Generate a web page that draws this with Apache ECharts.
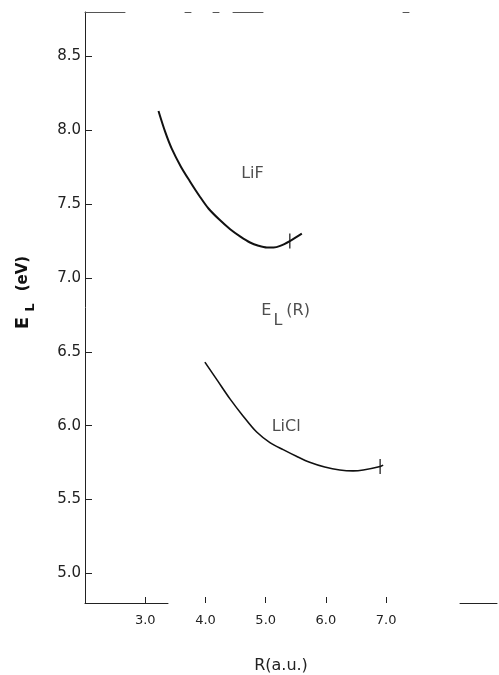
<!DOCTYPE html>
<html><head><meta charset="utf-8">
<script src="https://cdn.jsdelivr.net/npm/echarts@6/dist/echarts.min.js"></script>
<style>html,body{margin:0;padding:0;background:#fff}#c{width:499px;height:675px}</style>
</head><body><div id="c"></div>
<script>
// Data
const xTicks = [3.0, 4.0, 5.0, 6.0, 7.0];
const yTicks = [5.0, 5.5, 6.0, 6.5, 7.0, 7.5, 8.0, 8.5];
const lifR = [3.22, 3.33, 3.44, 3.59, 3.74, 3.90, 4.05, 4.23, 4.41, 4.58, 4.74, 4.88, 5.02, 5.13, 5.24, 5.40, 5.60];
const lifE = [8.13, 7.99, 7.875, 7.755, 7.655, 7.555, 7.47, 7.395, 7.33, 7.28, 7.24, 7.218, 7.206, 7.206, 7.217, 7.25, 7.30];
const liclR = [3.99, 4.20, 4.41, 4.63, 4.85, 5.07, 5.29, 5.51, 5.73, 5.98, 6.23, 6.45, 6.62, 6.90, 6.95];
const liclE = [6.43, 6.305, 6.18, 6.063, 5.957, 5.886, 5.838, 5.793, 5.752, 5.72, 5.70, 5.694, 5.70, 5.724, 5.733];
const crossR = [5.40, 6.90];
const crossE = [7.25, 5.724];
const labelText = ['LiF', 'EL(R)', 'LiCl'];
const labelR = [4.78, 5.33, 5.34];
const labelE = [7.705, 6.774, 5.99];

const FONT = 'DejaVu Sans';
const zip = (a, b) => a.map((v, i) => [v, b[i]]);

const chart = echarts.init(document.getElementById('c'), null, {renderer: 'canvas'});
chart.setOption({
  backgroundColor: '#fff',
  animation: false,
  grid: {left: 85, top: 12, right: 2, bottom: 72, outerBoundsMode: 'none', containLabel: false},
  xAxis: [{
    type: 'value', min: 2, max: 8.84, position: 'bottom',
    name: 'R(a.u.)', nameLocation: 'middle', nameGap: 55,
    nameTextStyle: {fontFamily: FONT, fontSize: 16, color: '#222', padding: [0, 20, 0, 0]},
    axisLine: {show: true, lineStyle: {color: '#222', width: 1, type: [83, 292, 60]}},
    axisTick: {show: true, inside: true, length: 6, customValues: xTicks, lineStyle: {color: '#222'}},
    axisLabel: {customValues: xTicks, formatter: v => v.toFixed(1), fontFamily: FONT, fontSize: 13, color: '#222', margin: 11},
    splitLine: {show: false}
  }, {
    type: 'value', min: 2, max: 8.84, position: 'top',
    axisLine: {show: true, lineStyle: {color: '#555', width: 1, type: [40, 60, 6, 22, 6, 14, 30, 140, 6, 90, 30, 12]}},
    axisTick: {show: false}, axisLabel: {show: false}, splitLine: {show: false}
  }],
  yAxis: {
    type: 'value', min: 4.8, max: 8.8,
    name: '{b|E}{sb|L}{p| (eV)}', nameLocation: 'middle', nameGap: 48, nameRotate: 90,
    nameTextStyle: {
      padding: [0, 0, 0, 30],
      rich: {
        b: {fontFamily: FONT, fontWeight: 'bold', fontSize: 18, color: '#111'},
        sb: {fontFamily: FONT, fontWeight: 'bold', fontSize: 13, color: '#111', padding: [14, 7, 0, 5]},
        p: {fontFamily: FONT, fontWeight: 'bold', fontSize: 15, color: '#111'}
      }
    },
    axisLine: {show: true, lineStyle: {color: '#222', width: 1}},
    axisTick: {show: true, inside: true, length: 7, customValues: yTicks, lineStyle: {color: '#222'}},
    axisLabel: {customValues: yTicks, formatter: v => v.toFixed(1), fontFamily: FONT, fontSize: 15, color: '#222', margin: 4},
    splitLine: {show: false}
  },
  series: [{
    type: 'line', data: zip(lifR, lifE), smooth: 0.3, showSymbol: false,
    lineStyle: {color: '#111', width: 2}
  }, {
    type: 'line', data: zip(liclR, liclE), smooth: 0.3, showSymbol: false,
    lineStyle: {color: '#111', width: 1.6}
  }, {
    type: 'scatter', data: zip(crossR, crossE), symbol: 'rect', symbolSize: [1.5, 15],
    itemStyle: {color: '#111'}
  }, {
    type: 'scatter', symbolSize: 0,
    data: labelText.map((t, i) => ({value: [labelR[i], labelE[i]], name: t})),
    label: {
      show: true, position: 'inside',
      formatter: p => p.name === 'EL(R)' ? '{t|E}{s|L}{t|(R)}' : '{t|' + p.name + '}',
      rich: {
        t: {fontFamily: FONT, fontSize: 16, color: '#222'},
        s: {fontFamily: FONT, fontSize: 16, color: '#222', padding: [19, 4, 0, 2]}
      }
    }
  }]
});
</script></body></html>
